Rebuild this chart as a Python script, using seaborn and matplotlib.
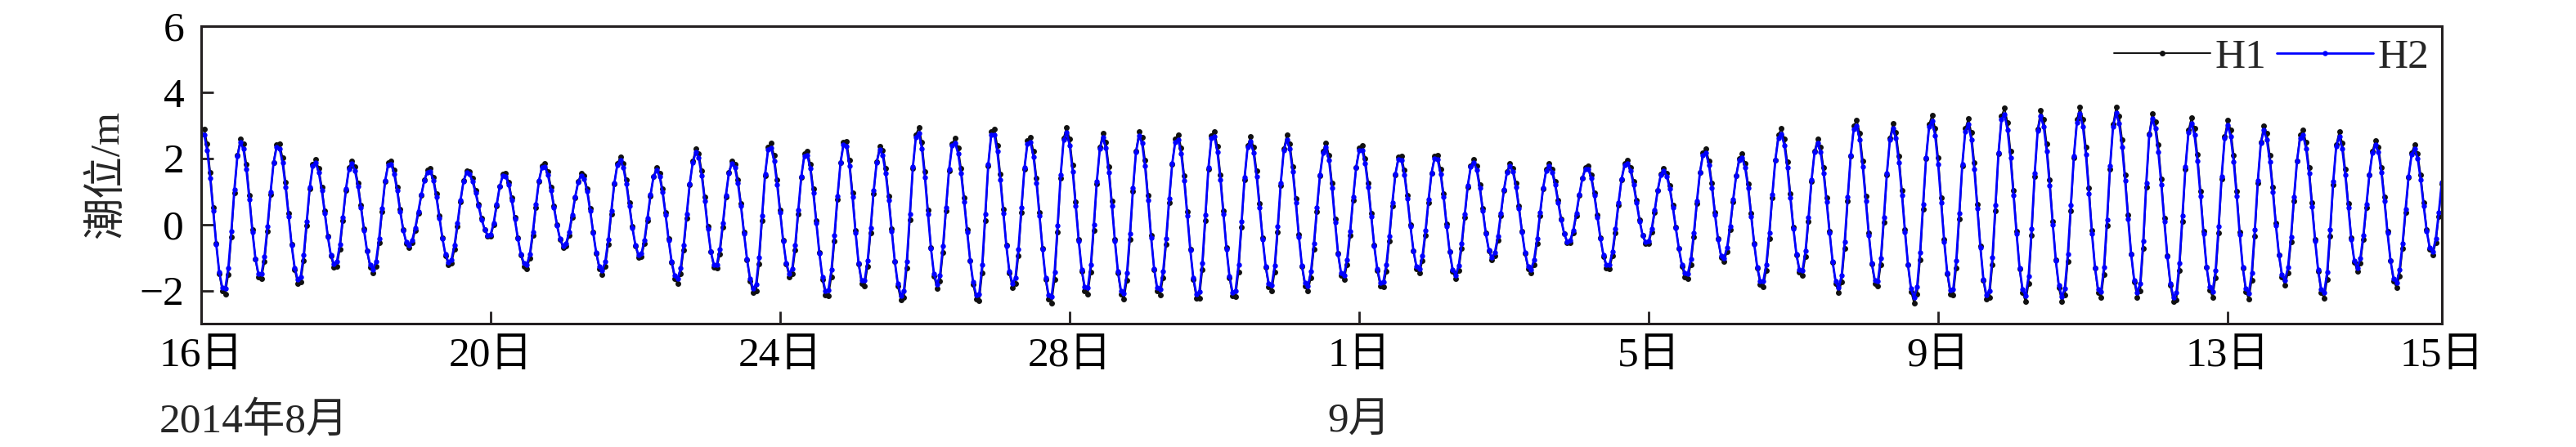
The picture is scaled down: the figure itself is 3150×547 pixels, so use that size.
import pandas as pd
import matplotlib
matplotlib.use('Agg')
import matplotlib.pyplot as plt
import matplotlib.transforms as mtransforms
from matplotlib.lines import Line2D
import seaborn as sns

# hourly tide level (m), 2014-08-16 00:00 onwards, one row per day
H1 = [
    2.89, 2.89, 2.43, 1.58, 0.52, -0.57, -1.49, -2.02, -2.10, -1.52, -0.37, 0.96, 2.08, 2.59, 2.44, 1.82, 0.88, -0.16, -1.05, -1.59, -1.63, -1.13, -0.20, 0.90,
    1.87, 2.42, 2.44, 2.02, 1.27, 0.33, -0.61, -1.36, -1.78, -1.74, -1.10, -0.04, 1.07, 1.81, 1.96, 1.69, 1.14, 0.40, -0.35, -0.96, -1.29, -1.26, -0.75, 0.11,
    1.03, 1.71, 1.93, 1.74, 1.26, 0.59, -0.14, -0.81, -1.29, -1.48, -1.26, -0.56, 0.39, 1.30, 1.86, 1.93, 1.65, 1.12, 0.46, -0.15, -0.57, -0.70, -0.55, -0.18,
    0.33, 0.88, 1.35, 1.64, 1.69, 1.43, 0.92, 0.26, -0.41, -0.95, -1.22, -1.18, -0.76, -0.07, 0.69, 1.32, 1.63, 1.60, 1.39, 1.03, 0.61, 0.18, -0.16, -0.36,
    -0.36, -0.02, 0.56, 1.15, 1.52, 1.54, 1.28, 0.81, 0.21, -0.41, -0.93, -1.26, -1.34, -1.02, -0.34, 0.52, 1.31, 1.78, 1.84, 1.60, 1.14, 0.57, 0.00, -0.46,
    -0.70, -0.66, -0.33, 0.21, 0.80, 1.29, 1.54, 1.47, 1.09, 0.48, -0.23, -0.88, -1.34, -1.51, -1.27, -0.60, 0.31, 1.22, 1.84, 2.04, 1.84, 1.34, 0.65, -0.07,
    -0.65, -0.99, -0.98, -0.58, 0.11, 0.86, 1.46, 1.71, 1.56, 1.07, 0.36, -0.44, -1.15, -1.64, -1.79, -1.49, -0.77, 0.20, 1.19, 1.91, 2.28, 2.15, 1.62, 0.82,
    -0.07, -0.83, -1.29, -1.33, -0.89, -0.08, 0.83, 1.58, 1.93, 1.82, 1.36, 0.64, -0.22, -1.06, -1.71, -2.07, -2.01, -1.20, 0.11, 1.48, 2.33, 2.46, 2.08, 1.35,
    0.44, -0.48, -1.20, -1.59, -1.49, -0.78, 0.32, 1.42, 2.13, 2.22, 1.83, 1.08, 0.12, -0.86, -1.66, -2.14, -2.16, -1.58, -0.51, 0.75, 1.86, 2.50, 2.51, 1.94,
    0.96, -0.18, -1.19, -1.80, -1.86, -1.28, -0.25, 0.94, 1.90, 2.36, 2.23, 1.69, 0.86, -0.14, -1.11, -1.87, -2.29, -2.22, -1.33, 0.15, 1.69, 2.72, 2.93, 2.48,
    1.59, 0.44, -0.70, -1.56, -1.94, -1.72, -0.84, 0.40, 1.63, 2.45, 2.61, 2.31, 1.69, 0.81, -0.16, -1.10, -1.82, -2.27, -2.31, -1.46, 0.12, 1.77, 2.81, 2.89,
    2.40, 1.53, 0.45, -0.63, -1.47, -1.91, -1.80, -0.95, 0.37, 1.68, 2.53, 2.64, 2.22, 1.41, 0.36, -0.73, -1.66, -2.25, -2.38, -1.67, -0.23, 1.41, 2.62, 2.94,
    2.58, 1.79, 0.69, -0.45, -1.41, -2.01, -2.10, -1.44, -0.19, 1.23, 2.33, 2.76, 2.50, 1.75, 0.70, -0.45, -1.46, -2.11, -2.26, -1.68, -0.46, 1.00, 2.22, 2.80,
    2.64, 1.94, 0.87, -0.33, -1.36, -2.02, -2.13, -1.61, -0.60, 0.67, 1.83, 2.58, 2.72, 2.31, 1.48, 0.38, -0.74, -1.67, -2.23, -2.24, -1.38, 0.11, 1.66, 2.68,
    2.82, 2.37, 1.51, 0.41, -0.71, -1.62, -2.17, -2.19, -1.44, -0.09, 1.36, 2.38, 2.65, 2.33, 1.62, 0.63, -0.41, -1.30, -1.88, -2.01, -1.44, -0.23, 1.18, 2.28,
    2.70, 2.45, 1.75, 0.77, -0.31, -1.26, -1.87, -2.02, -1.61, -0.74, 0.39, 1.47, 2.22, 2.46, 2.10, 1.26, 0.16, -0.88, -1.55, -1.67, -1.22, -0.34, 0.74, 1.73,
    2.31, 2.38, 1.99, 1.26, 0.33, -0.63, -1.40, -1.87, -1.90, -1.41, -0.50, 0.57, 1.51, 2.05, 2.06, 1.64, 0.89, 0.00, -0.80, -1.34, -1.47, -1.10, -0.32, 0.67,
    1.56, 2.07, 2.09, 1.66, 0.93, 0.02, -0.83, -1.43, -1.65, -1.40, -0.72, 0.21, 1.14, 1.78, 1.98, 1.76, 1.21, 0.48, -0.26, -0.80, -1.08, -0.96, -0.47, 0.26,
    1.02, 1.60, 1.84, 1.70, 1.24, 0.56, -0.20, -0.88, -1.34, -1.48, -1.21, -0.57, 0.27, 1.08, 1.66, 1.84, 1.68, 1.29, 0.74, 0.17, -0.29, -0.56, -0.55, -0.25,
    0.27, 0.87, 1.41, 1.73, 1.76, 1.49, 0.96, 0.28, -0.41, -0.97, -1.31, -1.34, -0.96, -0.26, 0.59, 1.36, 1.85, 1.95, 1.73, 1.30, 0.73, 0.14, -0.34, -0.59,
    -0.58, -0.23, 0.37, 1.02, 1.52, 1.70, 1.56, 1.17, 0.59, -0.08, -0.73, -1.27, -1.58, -1.63, -1.21, -0.39, 0.63, 1.57, 2.17, 2.28, 1.93, 1.24, 0.37, -0.44,
    -0.99, -1.12, -0.82, -0.16, 0.68, 1.47, 2.00, 2.13, 1.84, 1.22, 0.34, -0.57, -1.33, -1.81, -1.88, -1.39, -0.42, 0.81, 1.95, 2.71, 2.90, 2.58, 1.89, 0.93,
    -0.08, -0.92, -1.45, -1.53, -0.97, 0.08, 1.29, 2.22, 2.58, 2.35, 1.72, 0.81, -0.20, -1.14, -1.80, -2.07, -1.74, -0.72, 0.70, 2.07, 2.98, 3.16, 2.76, 1.93,
    0.86, -0.26, -1.20, -1.79, -1.87, -1.21, 0.06, 1.50, 2.62, 3.05, 2.79, 2.07, 1.03, -0.15, -1.23, -2.03, -2.38, -2.11, -1.07, 0.47, 2.00, 3.04, 3.31, 2.91,
    2.01, 0.80, -0.46, -1.49, -2.11, -2.14, -1.31, 0.17, 1.77, 2.90, 3.20, 2.78, 1.86, 0.62, -0.65, -1.70, -2.27, -2.22, -1.22, 0.42, 2.13, 3.28, 3.52, 3.09,
    2.22, 1.04, -0.21, -1.34, -2.07, -2.34, -1.79, -0.34, 1.44, 2.89, 3.44, 3.18, 2.43, 1.34, 0.10, -1.08, -1.92, -2.34, -2.14, -1.12, 0.42, 2.03, 3.17, 3.54,
    3.19, 2.33, 1.11, -0.19, -1.32, -2.05, -2.22, -1.51, -0.04, 1.68, 3.03, 3.54, 3.28, 2.57, 1.50, 0.28, -0.89, -1.74, -2.20, -2.01, -0.73, 1.13, 2.74, 3.36,
    3.11, 2.41, 1.37, 0.18, -0.96, -1.85, -2.34, -2.28, -1.40, 0.09, 1.68, 2.85, 3.23, 2.91, 2.11, 1.00, -0.21, -1.30, -1.98, -2.20, -1.61, -0.26, 1.37, 2.65,
    3.15, 2.87, 2.10, 1.00, -0.23, -1.31, -2.03, -2.26, -1.68, -0.35, 1.24, 2.50, 2.99, 2.75, 2.08, 1.12, 0.04, -0.92, -1.59, -1.83, -1.48, -0.54, 0.72, 1.92,
    2.71, 2.86, 2.48, 1.72, 0.66, -0.45, -1.41, -2.05, -2.24, -1.66, -0.35, 1.21, 2.41, 2.80, 2.47, 1.68, 0.64, -0.41, -1.14, -1.42, -1.16, -0.46, 0.51, 1.49,
    2.22, 2.53, 2.34, 1.72, 0.82, -0.20, -1.10, -1.72, -1.91, -1.56, -0.73, 0.36, 1.43, 2.17, 2.41, 2.14, 1.50, 0.66, -0.16, -0.74, -0.92, -0.56, 0.25, 1.23,
]

H2 = [
    2.74, 2.72, 2.24, 1.41, 0.41, -0.61, -1.45, -1.91, -1.93, -1.32, -0.20, 1.05, 2.06, 2.48, 2.28, 1.66, 0.75, -0.22, -1.04, -1.50, -1.49, -0.97, -0.06, 0.97,
    1.86, 2.33, 2.30, 1.86, 1.13, 0.24, -0.63, -1.31, -1.67, -1.58, -0.93, 0.10, 1.12, 1.77, 1.86, 1.57, 1.03, 0.33, -0.37, -0.93, -1.20, -1.13, -0.61, 0.22,
    1.07, 1.68, 1.84, 1.63, 1.15, 0.51, -0.18, -0.80, -1.22, -1.37, -1.11, -0.42, 0.48, 1.32, 1.80, 1.83, 1.53, 1.02, 0.39, -0.17, -0.54, -0.63, -0.47, -0.10,
    0.39, 0.90, 1.33, 1.58, 1.60, 1.33, 0.83, 0.20, -0.42, -0.91, -1.14, -1.06, -0.63, 0.03, 0.74, 1.31, 1.57, 1.52, 1.30, 0.95, 0.55, 0.15, -0.15, -0.32,
    -0.30, 0.05, 0.61, 1.15, 1.47, 1.46, 1.19, 0.73, 0.16, -0.42, -0.89, -1.18, -1.22, -0.89, -0.22, 0.60, 1.32, 1.72, 1.74, 1.49, 1.04, 0.50, -0.03, -0.44,
    -0.64, -0.58, -0.24, 0.28, 0.83, 1.27, 1.48, 1.38, 1.00, 0.41, -0.26, -0.86, -1.27, -1.39, -1.12, -0.46, 0.41, 1.25, 1.80, 1.94, 1.72, 1.22, 0.56, -0.11,
    -0.63, -0.92, -0.88, -0.47, 0.20, 0.90, 1.44, 1.64, 1.46, 0.97, 0.29, -0.47, -1.12, -1.55, -1.65, -1.33, -0.62, 0.31, 1.23, 1.87, 2.18, 2.01, 1.48, 0.71,
    -0.13, -0.82, -1.21, -1.21, -0.75, 0.03, 0.89, 1.56, 1.85, 1.71, 1.24, 0.55, -0.27, -1.05, -1.63, -1.94, -1.82, -1.00, 0.26, 1.53, 2.26, 2.32, 1.92, 1.21,
    0.35, -0.51, -1.16, -1.49, -1.34, -0.62, 0.44, 1.45, 2.07, 2.10, 1.69, 0.95, 0.04, -0.87, -1.60, -2.01, -1.98, -1.38, -0.34, 0.85, 1.86, 2.41, 2.36, 1.77,
    0.82, -0.25, -1.18, -1.70, -1.70, -1.10, -0.10, 1.02, 1.88, 2.26, 2.09, 1.54, 0.74, -0.21, -1.11, -1.79, -2.15, -2.02, -1.11, 0.32, 1.74, 2.64, 2.77, 2.29,
    1.42, 0.32, -0.73, -1.50, -1.81, -1.54, -0.66, 0.52, 1.66, 2.38, 2.47, 2.15, 1.54, 0.69, -0.22, -1.09, -1.75, -2.14, -2.11, -1.23, 0.30, 1.82, 2.72, 2.72,
    2.21, 1.36, 0.34, -0.66, -1.42, -1.79, -1.62, -0.76, 0.50, 1.71, 2.45, 2.49, 2.05, 1.26, 0.26, -0.76, -1.61, -2.13, -2.18, -1.44, -0.04, 1.49, 2.56, 2.79,
    2.39, 1.61, 0.56, -0.50, -1.38, -1.90, -1.92, -1.23, -0.02, 1.31, 2.29, 2.63, 2.32, 1.58, 0.57, -0.51, -1.43, -2.00, -2.08, -1.47, -0.27, 1.10, 2.20, 2.68,
    2.46, 1.76, 0.73, -0.40, -1.34, -1.91, -1.96, -1.41, -0.43, 0.78, 1.84, 2.49, 2.57, 2.13, 1.32, 0.27, -0.78, -1.62, -2.10, -2.04, -1.16, 0.28, 1.71, 2.60,
    2.66, 2.19, 1.35, 0.30, -0.75, -1.57, -2.05, -2.00, -1.23, 0.08, 1.43, 2.33, 2.51, 2.16, 1.46, 0.51, -0.46, -1.27, -1.78, -1.84, -1.24, -0.06, 1.26, 2.24,
    2.57, 2.28, 1.59, 0.65, -0.37, -1.24, -1.77, -1.86, -1.43, -0.57, 0.50, 1.50, 2.16, 2.33, 1.94, 1.11, 0.07, -0.89, -1.47, -1.53, -1.06, -0.20, 0.82, 1.73,
    2.23, 2.25, 1.84, 1.13, 0.24, -0.66, -1.35, -1.76, -1.74, -1.23, -0.35, 0.66, 1.52, 1.98, 1.94, 1.51, 0.78, -0.06, -0.80, -1.27, -1.35, -0.95, -0.19, 0.75,
    1.56, 2.00, 1.97, 1.53, 0.82, -0.05, -0.83, -1.36, -1.53, -1.25, -0.57, 0.31, 1.17, 1.74, 1.88, 1.64, 1.10, 0.40, -0.28, -0.77, -1.00, -0.85, -0.36, 0.34,
    1.05, 1.57, 1.76, 1.59, 1.13, 0.48, -0.24, -0.86, -1.27, -1.36, -1.07, -0.44, 0.36, 1.11, 1.62, 1.76, 1.58, 1.19, 0.66, 0.13, -0.29, -0.52, -0.48, -0.17,
    0.33, 0.90, 1.39, 1.67, 1.67, 1.39, 0.87, 0.22, -0.42, -0.93, -1.23, -1.22, -0.82, -0.14, 0.66, 1.37, 1.79, 1.85, 1.62, 1.20, 0.65, 0.10, -0.33, -0.54,
    -0.50, -0.14, 0.43, 1.04, 1.49, 1.62, 1.46, 1.08, 0.52, -0.12, -0.72, -1.21, -1.48, -1.49, -1.05, -0.25, 0.71, 1.58, 2.10, 2.16, 1.79, 1.11, 0.29, -0.46,
    -0.94, -1.02, -0.70, -0.05, 0.75, 1.47, 1.94, 2.02, 1.71, 1.10, 0.25, -0.60, -1.29, -1.71, -1.72, -1.21, -0.26, 0.90, 1.95, 2.62, 2.74, 2.40, 1.72, 0.80,
    -0.14, -0.91, -1.37, -1.39, -0.81, 0.21, 1.34, 2.18, 2.46, 2.19, 1.56, 0.69, -0.26, -1.13, -1.72, -1.92, -1.54, -0.53, 0.82, 2.08, 2.88, 2.98, 2.56, 1.74,
    0.72, -0.32, -1.18, -1.69, -1.71, -1.02, 0.22, 1.56, 2.57, 2.90, 2.60, 1.88, 0.88, -0.23, -1.23, -1.94, -2.22, -1.89, -0.85, 0.62, 2.03, 2.95, 3.13, 2.69,
    1.81, 0.65, -0.52, -1.46, -1.99, -1.95, -1.09, 0.34, 1.82, 2.82, 3.03, 2.57, 1.66, 0.48, -0.70, -1.66, -2.14, -2.01, -0.99, 0.59, 2.17, 3.18, 3.32, 2.86,
    2.01, 0.88, -0.29, -1.33, -1.97, -2.16, -1.56, -0.13, 1.54, 2.84, 3.27, 2.96, 2.22, 1.17, 0.00, -1.09, -1.84, -2.19, -1.93, -0.90, 0.58, 2.07, 3.08, 3.35,
    2.96, 2.11, 0.94, -0.28, -1.31, -1.95, -2.04, -1.29, 0.15, 1.76, 2.97, 3.37, 3.06, 2.35, 1.32, 0.17, -0.91, -1.68, -2.06, -1.79, -0.51, 1.26, 2.71, 3.20,
    2.90, 2.20, 1.20, 0.08, -0.98, -1.78, -2.20, -2.07, -1.17, 0.26, 1.74, 2.78, 3.06, 2.70, 1.91, 0.85, -0.29, -1.29, -1.88, -2.03, -1.39, -0.07, 1.46, 2.60,
    3.00, 2.67, 1.90, 0.85, -0.31, -1.30, -1.93, -2.08, -1.46, -0.16, 1.33, 2.46, 2.85, 2.56, 1.90, 0.98, -0.04, -0.92, -1.52, -1.69, -1.30, -0.37, 0.82, 1.93,
    2.62, 2.70, 2.30, 1.55, 0.54, -0.50, -1.38, -1.95, -2.06, -1.44, -0.16, 1.30, 2.37, 2.66, 2.29, 1.51, 0.52, -0.45, -1.10, -1.31, -1.02, -0.32, 0.60, 1.51,
    2.16, 2.41, 2.18, 1.57, 0.70, -0.26, -1.09, -1.63, -1.76, -1.38, -0.57, 0.47, 1.46, 2.11, 2.29, 1.99, 1.36, 0.56, -0.20, -0.71, -0.83, -0.44, 0.35, 1.28,
]

start_time = '2014-08-16 00:00'
tick_times = ['2014-08-16 00:00', '2014-08-20 00:00', '2014-08-24 00:00', '2014-08-28 00:00',
              '2014-09-01 00:00', '2014-09-05 00:00', '2014-09-09 00:00', '2014-09-13 00:00',
              '2014-09-15 23:00']
tick_labels = ['16日', '20日', '24日', '28日', '1日', '5日', '9日', '13日', '15日']
month_labels = ['2014年8月', '9月']
month_times = ['2014-08-16 00:00', '2014-09-01 00:00']
y_ticks = [-2, 0, 2, 4, 6]

sns.set_theme(style='ticks')
plt.rcParams['font.family'] = ['Liberation Serif', 'Noto Sans CJK SC']
plt.rcParams['axes.unicode_minus'] = True

df = pd.concat([
    pd.DataFrame({'time': pd.date_range(start_time, periods=len(H1), freq='h'), 'level': H1, 'station': 'H1'}),
    pd.DataFrame({'time': pd.date_range(start_time, periods=len(H2), freq='h'), 'level': H2, 'station': 'H2'}),
], ignore_index=True)

fig = plt.figure(figsize=(31.5, 5.47), dpi=100)
ax = fig.add_axes([0.0781, 0.2761, 0.8698, 0.6655])

styles = {'H1': dict(color='#111111', lw=1.4, markersize=5.0),
          'H2': dict(color='#0000ff', lw=2.0, markersize=4.6)}
for name, st in styles.items():
    sns.lineplot(data=df[df['station'] == name], x='time', y='level', ax=ax,
                 estimator=None, marker='o', markeredgewidth=0,
                 legend=False, **st)

ax.set_xlim(df['time'].min(), df['time'].max())
ax.set_ylim(-3, 6)
ax.set_yticks(y_ticks)
ax.set_xticks(pd.to_datetime(tick_times, format='%Y-%m-%d %H:%M'))
ax.set_xticklabels(tick_labels)
ax.set_xlabel('')
ax.set_ylabel('潮位/m', fontsize=37)
ax.yaxis.set_label_coords(-0.0332, 0.5)

for sp in ax.spines.values():
    sp.set_visible(True)
    sp.set_linewidth(2.2)
    sp.set_color('#231f20')
ax.tick_params(axis='both', direction='in', length=11, width=2, color='#231f20',
               labelsize=37, labelcolor='black')
ax.tick_params(axis='x', pad=12)
ax.tick_params(axis='y', pad=15)

# month annotations under the day labels
trans = mtransforms.blended_transform_factory(ax.transData, ax.transAxes)
mt = pd.to_datetime(month_times, format='%Y-%m-%d %H:%M')
ax.text(mt[0], -0.33, month_labels[0], fontsize=37, ha='left', va='center',
        transform=mtransforms.offset_copy(trans, fig=fig, x=-51, y=0, units='dots'))
ax.text(mt[1], -0.33, month_labels[1], fontsize=37, ha='center', va='center', transform=trans)

handles = [Line2D([], [], marker='o', markeredgewidth=0, **styles[k]) for k in styles]
ax.legend(handles, list(styles), loc='upper right', ncol=2, frameon=False, fontsize=37,
          handlelength=2.3, handletextpad=0.1, columnspacing=0.25, borderpad=0.1,
          borderaxespad=0.2, numpoints=1)

fig.savefig('out.png', dpi=100)
